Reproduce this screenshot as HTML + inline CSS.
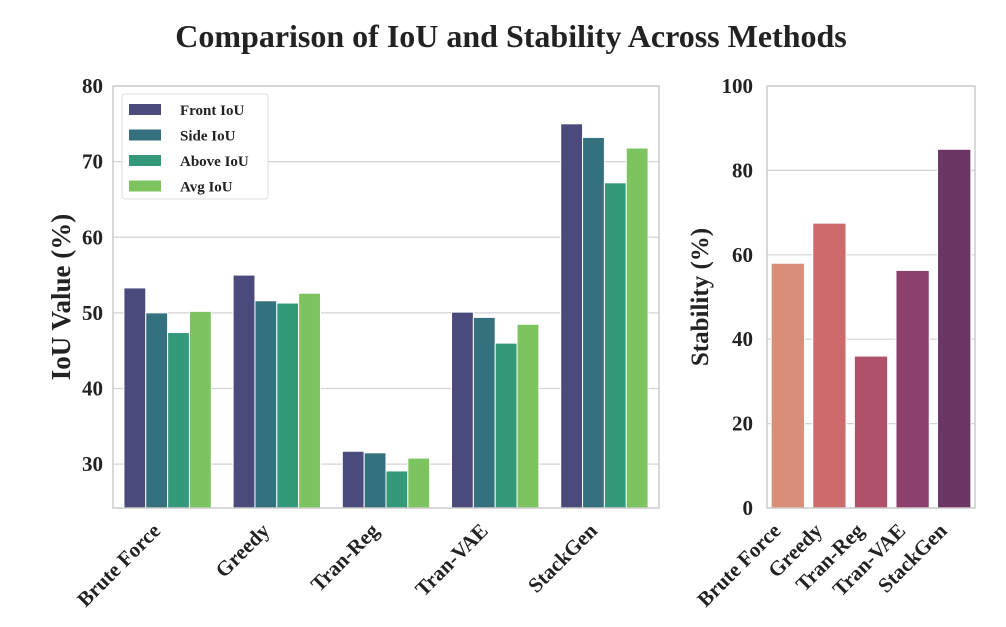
<!DOCTYPE html>
<html><head><meta charset="utf-8"><style>
body{margin:0;background:#fff;}
svg text{font-family:"Liberation Serif",serif;font-weight:bold;fill:#222;}
</style></head><body>
<svg id="c" width="1006" height="622" xmlns="http://www.w3.org/2000/svg">
<text x="511" y="47" text-anchor="middle" font-size="32">Comparison of IoU and Stability Across Methods</text>
<g id="left"></g>
<g id="right"></g>
</svg>
<script>
const categories=["Brute Force","Greedy","Tran-Reg","Tran-VAE","StackGen"];
const seriesNames=["Front IoU","Side IoU","Above IoU","Avg IoU"];
const frontIoU=[53.3,55.0,31.7,50.1,75.0];
const sideIoU=[50.0,51.6,31.5,49.4,73.2];
const aboveIoU=[47.4,51.3,29.1,46.0,67.2];
const avgIoU=[50.2,52.6,30.8,48.5,71.8];
const leftTicks=[30,40,50,60,70,80];
const stability=[58.0,67.5,36.0,56.3,85.0];
const rightTicks=[0,20,40,60,80,100];

const NS="http://www.w3.org/2000/svg";
function mk(p,t,a){const e=document.createElementNS(NS,t);for(const k in a)e.setAttribute(k,a[k]);p.appendChild(e);return e;}
const L=document.getElementById('left'),R=document.getElementById('right');
const series=[frontIoU,sideIoU,aboveIoU,avgIoU];
const cols=["#4a4a7c","#35707f","#34997a","#7dc35f"];
const lx0=113,lx1=659,ly0=86,ly1=508,lmin=24.2,lmax=80;
const ly=v=>ly1-(v-lmin)/(lmax-lmin)*(ly1-ly0);
const bw=(lx1-lx0)/categories.length;
const lxc=i=>lx0+bw*(i+0.5);
leftTicks.forEach(t=>{
 const g=mk(L,'line',{x1:lx0,x2:lx1,y1:ly(t),y2:ly(t),stroke:'#d3d3d3','stroke-width':1.2});
 
 
 const tx=mk(L,'text',{x:lx0-10,y:ly(t)+7,'text-anchor':'end','font-size':21});
 tx.textContent=t;
 
 
});
const sub=bw*0.8/4;
series.forEach((s,j)=>{
 s.forEach((v,i)=>{
  const x=lxc(i)-bw*0.4+j*sub;
  const r=mk(L,'rect',{x:x,y:ly(v),width:sub,height:ly1-ly(v),fill:cols[j],stroke:'#fff','stroke-width':1});
  
  
 });
});
const lf=mk(L,'rect',{x:lx0,y:ly0,width:lx1-lx0,height:ly1-ly0,fill:'none',stroke:'#cccccc','stroke-width':1.5});


categories.forEach((c,i)=>{
 const t=mk(L,'text',{transform:`translate(${lxc(i)-6},${ly1+24}) rotate(-45)`,'text-anchor':'end','font-size':21});
 t.textContent=c;
 
 
});
const yl=mk(L,'text',{transform:'translate(70,297) rotate(-90)','text-anchor':'middle','font-size':27});
yl.textContent='IoU Value (%)';


const lg=mk(L,'g',{});


mk(lg,'rect',{x:122,y:94,width:146,height:105,rx:3,fill:'#fff',stroke:'#dddddd','stroke-width':1});
seriesNames.forEach((n,j)=>{
 const y=104+j*25.5;
 const e=mk(lg,'g',{});
 
 
 mk(e,'rect',{x:129,y:y,width:32,height:11,fill:cols[j]});
 const t=mk(e,'text',{x:180,y:y+11,'font-size':15});
 t.textContent=n;
});
const rx0=767,rx1=975,ry0=86,ry1=508;
const ry=v=>ry1-v/100*(ry1-ry0);
const rbw=(rx1-rx0)/categories.length;
const rxc=i=>rx0+rbw*(i+0.5);
const rcols=["#d98e77","#cf6a6a","#b0506b","#8c406b","#6a3463"];
rightTicks.forEach(t=>{
 const g=mk(R,'line',{x1:rx0,x2:rx1,y1:ry(t),y2:ry(t),stroke:'#d3d3d3','stroke-width':1.2});
 
 
 const tx=mk(R,'text',{x:rx0-14,y:ry(t)+7,'text-anchor':'end','font-size':21});
 tx.textContent=t;
 
 
});
stability.forEach((v,i)=>{
 const r=mk(R,'rect',{x:rxc(i)-rbw*0.4,y:ry(v),width:rbw*0.8,height:ry1-ry(v),fill:rcols[i],stroke:'#fff','stroke-width':1});
 
 
});
const rf=mk(R,'rect',{x:rx0,y:ry0,width:rx1-rx0,height:ry1-ry0,fill:'none',stroke:'#cccccc','stroke-width':1.5});


categories.forEach((c,i)=>{
 const t=mk(R,'text',{transform:`translate(${rxc(i)-6},${ry1+24}) rotate(-45)`,'text-anchor':'end','font-size':21});
 t.textContent=c;
 
 
});
const yr=mk(R,'text',{transform:'translate(708,297) rotate(-90)','text-anchor':'middle','font-size':25});
yr.textContent='Stability (%)';


</script>
</body></html>
